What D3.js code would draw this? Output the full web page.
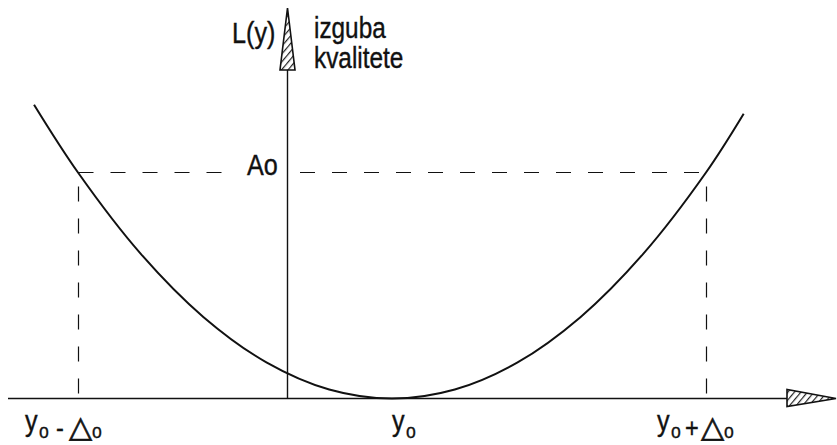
<!DOCTYPE html>
<html>
<head>
<meta charset="utf-8">
<script src="https://cdn.jsdelivr.net/npm/d3@7"></script>
<style>
  body { margin: 0; background: #fff; }
  text { font-family: "Liberation Sans", Arial, sans-serif; fill: #111; stroke: #111; stroke-width: 0.4; }
  .sym { font-family: "DejaVu Sans", sans-serif; stroke-width: 0.7; }
</style>
</head>
<body>
<svg id="chart" width="837" height="445"></svg>
<script>
// deviation from target, in units of delta0 (y0 = 0)
const devs = [-1.14, -1.0, -0.8, -0.6, -0.4, -0.2, 0, 0.2, 0.4, 0.6, 0.8, 1.0, 1.12];
// loss L(y), in units of A0
const losses = [1.30, 1.0, 0.64, 0.36, 0.16, 0.04, 0, 0.04, 0.16, 0.36, 0.64, 1.0, 1.26];
const limits = [-1, 1];
const A0 = 1;
const yAxisAt = -0.335;

let svg = d3.select("#chart");

let x = d3.scaleLinear().domain([-1, 1]).range([78, 706]);
let y = d3.scaleLinear().domain([0, 1]).range([398.5, 172.5]);

// narrow text: Liberation Sans squeezed sideways
function txt(px, py, size, str, cls) {
    return svg.append("text")
        .attr("class", cls || null)
        .attr("transform", `translate(${px},${py}) scale(${cls ? 1 : 0.84},1)`)
        .attr("font-size", size)
        .text(str);
}

// hatch pattern for the arrow heads
let defs = svg.append("defs");
let pat = defs.append("pattern")
    .attr("id", "hatch")
    .attr("patternUnits", "userSpaceOnUse")
    .attr("width", 5).attr("height", 5)
    .attr("patternTransform", "rotate(40)");
pat.append("rect").attr("width", 5).attr("height", 5).attr("fill", "#fff");
pat.append("line").attr("x1", 0).attr("y1", 0).attr("x2", 0).attr("y2", 5)
    .attr("stroke", "#222").attr("stroke-width", 2.4);

// axes
let ax = Math.round(x(yAxisAt)) + 0.5;
svg.append("line")
    .attr("x1", 8).attr("x2", 790)
    .attr("y1", y(0)).attr("y2", y(0))
    .attr("stroke", "#111").attr("stroke-width", 1.4);
svg.append("line")
    .attr("x1", ax).attr("x2", ax)
    .attr("y1", y(0)).attr("y2", 68)
    .attr("stroke", "#111").attr("stroke-width", 1.4);

// arrow heads
svg.append("path")
    .attr("d", `M${ax},8 L${ax - 7.5},70 L${ax + 7.5},70 Z`)
    .attr("fill", "url(#hatch)").attr("stroke", "#111").attr("stroke-width", 1.6);
svg.append("path")
    .attr("d", `M836,${y(0)} L787,${y(0) - 9} L787,${y(0) + 8} Z`)
    .attr("fill", "url(#hatch)").attr("stroke", "#111").attr("stroke-width", 1.6);

// dashed guides
let dash = "15,17";
let xl = Math.round(x(limits[0])) + 0.5;
let xr = Math.round(x(limits[1])) + 0.5;
svg.append("line")
    .attr("x1", xl).attr("x2", 238)
    .attr("y1", y(A0)).attr("y2", y(A0))
    .attr("stroke", "#111").attr("stroke-width", 1.2).attr("stroke-dasharray", dash);
svg.append("line")
    .attr("x1", 300).attr("x2", xr)
    .attr("y1", y(A0)).attr("y2", y(A0))
    .attr("stroke", "#111").attr("stroke-width", 1.2).attr("stroke-dasharray", dash);
svg.selectAll("line.vguide").data([xl, xr])
    .join("line")
    .attr("class", "vguide")
    .attr("x1", d => d).attr("x2", d => d)
    .attr("y1", y(A0) + 14).attr("y2", y(0) - 4)
    .attr("stroke", "#111").attr("stroke-width", 1.2).attr("stroke-dasharray", dash);

// loss curve
let pts = devs.map((d, i) => [d, losses[i]]);
let line = d3.line()
    .x(d => x(d[0]))
    .y(d => y(d[1]))
    .curve(d3.curveCatmullRom);
svg.append("path")
    .datum(pts)
    .attr("d", line)
    .attr("fill", "none")
    .attr("stroke", "#111")
    .attr("stroke-width", 2);

// labels
txt(232, 43, 30, "L(y)");
txt(314, 38, 29, "izguba");
txt(314, 68, 29, "kvalitete");
txt(247, 175, 30, "Ao");

// x labels: y0, y0 - delta0, y0 + delta0
function xLabel(x0, op) {
    txt(x0, 431, 30, "y");
    txt(x0 + 14, 438, 21, "o");
    if (!op) return;
    txt(x0 + (op === "-" ? 31 : 28), 437, 28, op);
    txt(x0 + 44, 437, 30, "△", "sym");
    txt(x0 + 67, 438, 21, "o");
}
xLabel(25, "-");
xLabel(392, null);
xLabel(657, "+");
</script>
</body>
</html>
